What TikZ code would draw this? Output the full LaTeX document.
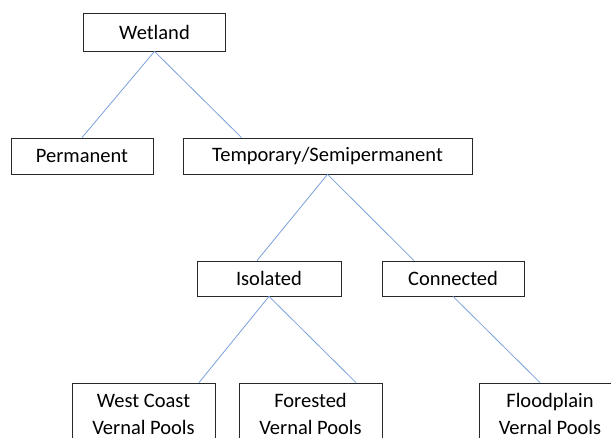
\documentclass[tikz,border=0pt]{standalone}
\usepackage{fontspec}
\setmainfont{Carlito}
\definecolor{linkblue}{RGB}{122,160,218}
\definecolor{boxline}{RGB}{40,40,40}
\tikzset{
  box/.style={draw=boxline, line width=0.8pt, fill=white, inner sep=2pt,
    font=\fontsize{20.5}{25}\selectfont, text=black},
  twoline/.style={box, align=center, font=\fontsize{20.5}{27}\selectfont},
  link/.style={draw=linkblue, line width=0.8pt}
}
\begin{document}
\begin{tikzpicture}[x=1pt,y=-1pt]
\useasboundingbox (0,0) rectangle (611,438);
\clip (0,0) rectangle (611,438);
\node[box, minimum width=142pt, minimum height=38pt] (wet) at (154.5,32) {Wetland};
\node[box, minimum width=142pt, minimum height=36pt] (perm) at (82,156) {Permanent};
\node[box, minimum width=289pt, minimum height=36pt] (temp) at (327.5,156) {Temporary/Semipermanent};
\node[box, minimum width=144pt, minimum height=35pt] (iso) at (269,278.5) {Isolated};
\node[box, minimum width=142pt, minimum height=35pt] (conn) at (453,278.5) {Connected};
\node[twoline, minimum width=143pt, minimum height=62pt] (west) at (143.5,414) {West Coast\\Vernal Pools};
\node[twoline, minimum width=143pt, minimum height=62pt] (forest) at (310.5,414) {Forested\\Vernal Pools};
\node[twoline, minimum width=142pt, minimum height=62pt] (flood) at (550,414) {Floodplain\\Vernal Pools};
\draw[link] (wet.south) -- (perm.north);
\draw[link] (wet.south) -- ([xshift=-86pt]temp.north);
\draw[link] (temp.south) -- ([xshift=-12pt]iso.north);
\draw[link] (temp.south) -- ([xshift=-39pt]conn.north);
\draw[link] (iso.south) -- ([xshift=55.5pt]west.north);
\draw[link] (iso.south) -- ([xshift=45.5pt]forest.north);
\draw[link] (conn.south) -- ([xshift=-10pt]flood.north);
\end{tikzpicture}
\end{document}
